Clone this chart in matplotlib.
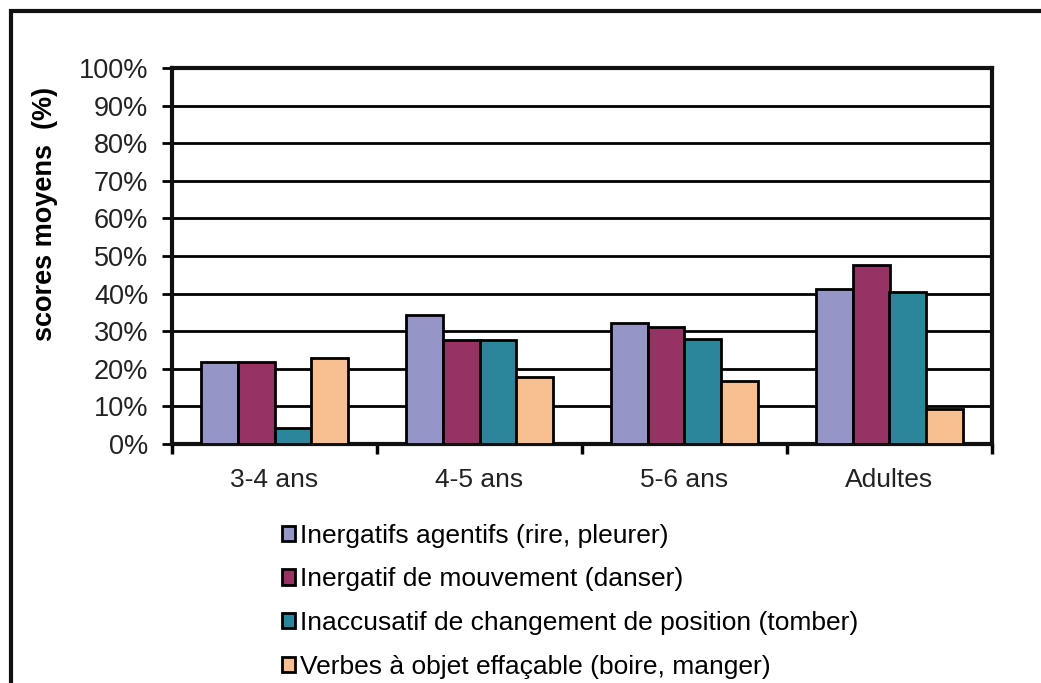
import numpy as np
import matplotlib
matplotlib.use("Agg")
import matplotlib.pyplot as plt
from matplotlib.patches import Rectangle
from matplotlib.ticker import FuncFormatter

plt.rcParams['font.family'] = ['Liberation Sans', 'DejaVu Sans']

groups = ["3-4 ans", "4-5 ans", "5-6 ans", "Adultes"]
series_names = [
    "Inergatifs agentifs (rire, pleurer)",
    "Inergatif de mouvement (danser)",
    "Inaccusatif de changement de position (tomber)",
    "Verbes à objet effaçable (boire, manger)",
]
agentifs = [21.7, 34.3, 32.1, 41.3]
mouvement = [21.7, 27.7, 31.0, 47.5]
inaccusatif = [4.2, 27.7, 27.8, 40.3]
effacable = [23.0, 17.7, 16.8, 9.3]
colors = ["#9595C8", "#963264", "#2B869B", "#F8C090"]

W, H = 1041, 683
fig = plt.figure(figsize=(W / 100, H / 100), dpi=100)
ax = fig.add_axes([172 / W, 1 - 444 / H, 820 / W, 376 / H])

# outer frame (extends past right and bottom edges)
fig.patches.append(Rectangle((11 / W, -0.1), 1.2, 1 - 11 / H + 0.1,
                             transform=fig.transFigure, fill=False,
                             edgecolor="#111111", linewidth=3, zorder=0))

x = np.arange(len(groups))
bw = 0.18
all_series = [agentifs, mouvement, inaccusatif, effacable]
for i, vals in enumerate(all_series):
    ax.bar(x + (i - 1.5) * bw, vals, bw, color=colors[i], edgecolor="black",
           linewidth=2, label=series_names[i], zorder=3)

ax.set_xlim(-0.5, len(groups) - 0.5)
ax.set_ylim(0, 100)
ax.set_yticks(np.arange(0, 101, 10))
ax.yaxis.set_major_formatter(FuncFormatter(lambda v, p: f"{int(v)}%"))
ax.yaxis.grid(True, color="black", linewidth=2)
ax.set_axisbelow(True)

ax.set_xticks(x)
ax.set_xticklabels(groups)
ax.set_xticks(np.arange(-0.5, len(groups)), minor=True)
ax.tick_params(axis="x", which="major", length=0, pad=17, labelsize=19, colors="#222222")
ax.tick_params(axis="x", which="minor", length=7, width=2.5, direction="out")
ax.tick_params(axis="y", length=7, width=2, direction="out", labelsize=19.5,
               pad=10, labelcolor="#222222")
for s in ax.spines.values():
    s.set_linewidth(3)
    s.set_color("#111111")

fig.text(45 / W, 1 - 214 / H, "scores moyens  (%)", rotation=90, ha="center",
         va="center", fontsize=19.5, fontweight="bold")

leg = ax.legend(loc="upper left", bbox_to_anchor=(271 / W, 1 - 513 / H),
                bbox_transform=fig.transFigure, frameon=False, fontsize=19,
                handlelength=0.5, handleheight=0.5, handletextpad=0.2,
                labelspacing=0.75, borderaxespad=0)

fig.savefig("out.png", dpi=100, facecolor="white")
